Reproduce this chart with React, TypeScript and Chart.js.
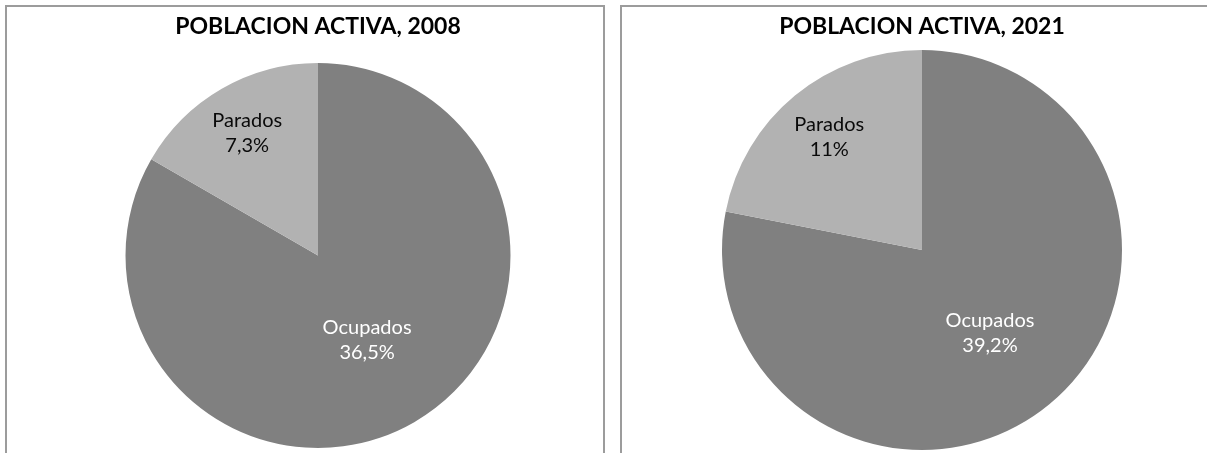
import React, { useEffect, useRef } from "react";
import { Chart, registerables } from "chart.js";

Chart.register(...registerables);

const categories = ["Ocupados", "Parados"];
const values2008 = [36.5, 7.3];
const values2021 = [39.2, 11];
const valueLabels2008 = ["36,5%", "7,3%"];
const valueLabels2021 = ["39,2%", "11%"];
const titles = ["POBLACION ACTIVA, 2008", "POBLACION ACTIVA, 2021"];

const sliceColors = ["#808080", "#b2b2b2"];
const labelColors = ["#ffffff", "#0a0a0a"];

const labelPlugin = {
  id: "sliceLabels",
  afterDatasetsDraw(chart: any, _args: any, opts: any) {
    const ctx = chart.ctx;
    const meta = chart.getDatasetMeta(0);
    const texts: string[] = opts.texts || [];
    const factors: number[] = opts.factors || [0.5, 0.73];
    ctx.save();
    ctx.font = "20px Lato";
    ctx.textAlign = "center";
    ctx.textBaseline = "middle";
    meta.data.forEach((arc: any, i: number) => {
      const p = arc.getProps(["x", "y", "startAngle", "endAngle", "outerRadius"], true);
      const mid = (p.startAngle + p.endAngle) / 2;
      const r = p.outerRadius * factors[i];
      const cx = p.x + Math.cos(mid) * r;
      const cy = p.y + Math.sin(mid) * r;
      ctx.fillStyle = labelColors[i];
      ctx.fillText(categories[i], cx, cy - 12.5);
      ctx.fillText(texts[i], cx, cy + 12.5);
    });
    ctx.restore();
  },
};

function PieBox(props: {
  values: number[];
  texts: string[];
  factors: number[];
  title: string;
  left: number;
  width: number;
  canvasWidth: number;
  padding: { top: number; bottom: number; left: number; right: number };
  titlePadBottom: number;
}) {
  const ref = useRef<HTMLCanvasElement | null>(null);
  useEffect(() => {
    if (!ref.current) return;
    const chart = new Chart(ref.current, {
      type: "pie",
      data: {
        labels: categories,
        datasets: [
          {
            data: props.values,
            backgroundColor: sliceColors,
            borderWidth: 0,
          },
        ],
      },
      options: {
        responsive: false,
        animation: false,
        layout: { padding: props.padding },
        plugins: {
          legend: { display: false },
          tooltip: { enabled: false },
          title: {
            display: true,
            text: props.title,
            color: "#000000",
            font: { family: "Lato", size: 23, weight: "bold", lineHeight: 1.2 },
            padding: { top: 5.8, bottom: props.titlePadBottom },
          },
          sliceLabels: { texts: props.texts, factors: props.factors },
        } as any,
      },
      plugins: [labelPlugin],
    });
    return () => chart.destroy();
  }, []);
  return (
    <div
      style={{
        position: "absolute",
        left: props.left,
        top: 5,
        width: props.width,
        height: 480,
        border: "2px solid #9c9c9c",
        boxSizing: "border-box",
        background: "#ffffff",
        overflow: "hidden",
      }}
    >
      <canvas ref={ref} width={props.canvasWidth} height={460} style={{ display: "block" }} />
    </div>
  );
}

export default function App() {
  return (
    <div
      style={{
        position: "fixed",
        left: 0,
        top: 0,
        width: 1207,
        height: 453,
        overflow: "hidden",
        background: "#ffffff",
      }}
    >
      <PieBox
        values={values2008}
        texts={valueLabels2008}
        factors={[0.51, 0.735]}
        title={titles[0]}
        left={5}
        width={600}
        canvasWidth={596}
        padding={{ top: 0, bottom: 19, left: 26, right: 0 }}
        titlePadBottom={22.6}
      />
      <PieBox
        values={values2021}
        texts={valueLabels2021}
        factors={[0.535, 0.73]}
        title={titles[1]}
        left={620}
        width={620}
        canvasWidth={592}
        padding={{ top: 0, bottom: 17, left: 8, right: 0 }}
        titlePadBottom={9.6}
      />
    </div>
  );
}
